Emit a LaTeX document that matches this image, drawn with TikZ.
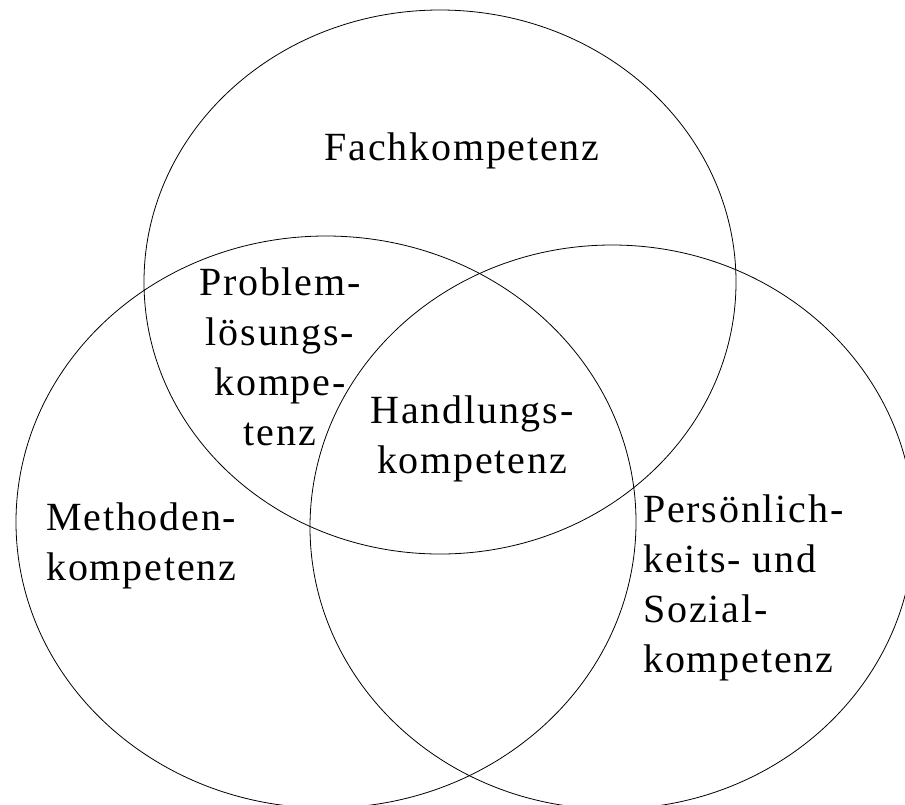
\documentclass[tikz,border=0pt]{standalone}
\usepackage{fontspec}
\setmainfont{Liberation Serif}[LetterSpace=4.5]
\usepackage{tikz}
\usetikzlibrary{positioning}

\begin{document}
\begin{tikzpicture}[
    x=0.75pt, y=-0.75pt,
    ring/.style={draw, line width=0.6pt},
    kompetenz/.style={inner sep=0pt, font=\fontsize{30}{37.5}\selectfont},
    mitte/.style={kompetenz, align=center, anchor=base},
    links/.style={kompetenz, align=left, anchor=base west}
]
\clip (0,0) rectangle (905,804);

% Centres of the three sets
\coordinate (fachmitte) at (440,282);
\coordinate (methmitte) at (326,522);
\coordinate (sozmitte) at (612,527);

% The three sets
\draw[ring] (fachmitte) ellipse [x radius=296, y radius=272];
\draw[ring] (methmitte) ellipse [x radius=310, y radius=286];
\draw[ring] (sozmitte) ellipse [x radius=302, y radius=282];

% Labels (base = baseline of the last line)
\node[mitte] (fach) at (462,160) {Fachkompetenz};
\node[mitte] (problem) at (280,445) {Problem-\\lösungs-\\kompe-\\tenz};
\node[mitte] (handlung) at (472,473) {Handlungs-\\kompetenz};
\node[links] (methode) at (46,580) {Methoden-\\kompetenz};
\node[links] (sozial) at (643,672) {Persönlich-\\keits- und\\Sozial-\\kompetenz};

\end{tikzpicture}
\end{document}
